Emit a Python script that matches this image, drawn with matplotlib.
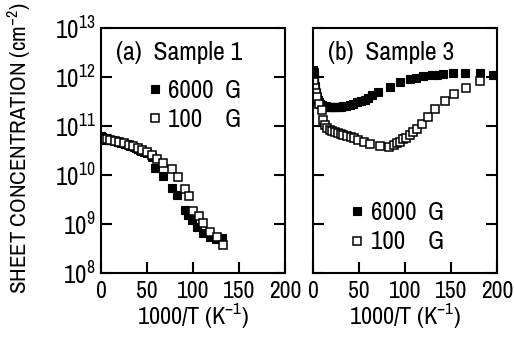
import numpy as np
import matplotlib
matplotlib.use("Agg")
import matplotlib.pyplot as plt

plt.rcParams['font.family'] = ['Archivo Narrow', 'DejaVu Sans']
plt.rcParams['mathtext.fontset'] = 'custom'
plt.rcParams['mathtext.rm'] = 'Archivo Narrow'
plt.rcParams['mathtext.it'] = 'Archivo Narrow'
plt.rcParams['mathtext.bf'] = 'Archivo Narrow'
plt.rcParams['mathtext.fallback'] = 'stixsans'

# Sample 1, 6000 G (filled)
s1_hi_x = [0.5, 1, 1.5, 2, 3, 4, 5, 6, 7, 8, 10, 12, 14, 16, 18, 20, 22, 24, 26, 28,
           30, 32, 34, 36, 38, 40, 42, 44, 47, 50, 55, 59, 67, 77, 83, 91, 95, 98.5,
           104, 111, 118.5, 125, 132]
s1_hi_logn = [10.80, 10.74, 10.78, 10.73, 10.76, 10.72, 10.75, 10.73, 10.74, 10.72,
              10.72, 10.71, 10.70, 10.69, 10.68, 10.67, 10.66, 10.65, 10.64, 10.63,
              10.62, 10.60, 10.59, 10.57, 10.56, 10.54, 10.52, 10.50, 10.47, 10.44,
              10.37, 10.14, 9.97, 9.73, 9.59, 9.29, 9.18, 9.08, 8.94, 8.81, 8.74,
              8.69, 8.71]
# Sample 1, 100 G (open)
s1_lo_x = [2, 6, 10, 15, 20, 25, 30, 35, 40, 45, 50, 55, 60.5, 67, 77, 84, 91, 96,
           100, 106, 111, 118, 126, 133]
s1_lo_logn = [10.74, 10.73, 10.71, 10.69, 10.67, 10.65, 10.62, 10.59, 10.56, 10.52,
              10.47, 10.41, 10.32, 10.24, 10.12, 9.95, 9.71, 9.57, 9.27, 9.16, 9.03,
              8.84, 8.73, 8.57]

# Sample 3, 6000 G (filled)
s3_hi_x = [0.5, 0.8, 1, 1.3, 1.6, 2, 2.5, 3, 3.5, 4, 5, 6, 7, 8, 10, 12, 14, 16, 18,
           20, 22, 24, 26, 28, 30, 33, 36, 40, 44, 48, 52, 56, 60, 64, 71, 84, 94.6,
           105, 112, 120, 129, 135, 141.6, 152, 165, 181.5, 196]
s3_hi_logn = [12.14, 12.10, 12.05, 11.98, 11.90, 11.82, 11.74, 11.68, 11.62, 11.58,
              11.54, 11.50, 11.47, 11.45, 11.43, 11.41, 11.40, 11.39, 11.39, 11.38,
              11.38, 11.38, 11.39, 11.39, 11.39, 11.40, 11.41, 11.43, 11.45, 11.48,
              11.51, 11.54, 11.57, 11.63, 11.70, 11.80, 11.90, 11.95, 11.98, 12.02,
              12.04, 12.05, 12.06, 12.08, 12.08, 12.09, 12.04]
# Sample 3, 100 G (open)
s3_lo_x = [1, 2, 3, 4, 6, 9.4, 11, 13, 15, 18, 21, 24, 27, 30, 33, 37, 41, 45, 49,
           55, 62, 73, 83, 88, 91, 95, 98, 101, 105, 109, 113, 118, 125, 133, 143,
           153, 166, 181.5]
s3_lo_logn = [11.90, 11.78, 11.68, 11.60, 11.45, 11.33, 11.12, 11.02, 10.95, 10.92,
              10.89, 10.87, 10.85, 10.84, 10.82, 10.80, 10.77, 10.75, 10.71, 10.68,
              10.63, 10.59, 10.58, 10.61, 10.65, 10.68, 10.73, 10.76, 10.82, 10.87,
              10.93, 11.05, 11.19, 11.34, 11.51, 11.66, 11.78, 11.92]

panels = [
    ("(a)  Sample 1", s1_hi_x, s1_hi_logn, s1_lo_x, s1_lo_logn),
    ("(b)  Sample 3", s3_hi_x, s3_hi_logn, s3_lo_x, s3_lo_logn),
]
xticks = [0, 50, 100, 150, 200]
yticks = [1e8, 1e9, 1e10, 1e11, 1e12, 1e13]
ytick_labels = [r'10$^{8}$', r'10$^{9}$', r'10$^{10}$', r'10$^{11}$', r'10$^{12}$', r'10$^{13}$']

fig = plt.figure(figsize=(5.14, 3.43), dpi=100)
W, H = 514, 343
axes_pos = [(101, 28, 285, 273), (313, 28, 497, 273)]

for i, (title, hx, hy, lx, ly) in enumerate(panels):
    x0, y0, x1, y1 = axes_pos[i]
    ax = fig.add_axes([x0 / W, 1 - y1 / H, (x1 - x0) / W, (y1 - y0) / H])
    ax.set_yscale('log')
    ax.set_xlim(0, 200)
    ax.set_ylim(1e8, 1e13)
    h1, = ax.plot(hx, 10 ** np.array(hy), 's', color='black', ms=5.5, mew=0.8,
                  linestyle='none')
    h2, = ax.plot(lx, 10 ** np.array(ly), 's', mfc='white', mec='black', ms=5.5,
                  mew=1.1, linestyle='none')
    for s in ax.spines.values():
        s.set_linewidth(1.5)
    ax.set_xticks(xticks)
    ax.set_xticklabels([str(t) for t in xticks], fontsize=17)
    ax.set_yticks(yticks)
    ax.yaxis.set_minor_locator(matplotlib.ticker.NullLocator())
    ax.tick_params(axis='both', direction='in', length=8, width=1.5)
    ax.tick_params(axis='x', pad=6)
    ax.tick_params(axis='y', right=True, left=True, pad=4)
    ax.tick_params(axis='x', top=False)
    if i == 0:
        ax.set_yticklabels(ytick_labels, fontsize=18)
        ax.set_ylabel(r'SHEET CONCENTRATION (cm$^{-2}$)', fontsize=16.5)
        ax.yaxis.set_label_coords(-0.37, 0.51)
        leg_loc = (0.25, 0.58)
    else:
        ax.set_yticklabels([])
        leg_loc = (0.2, 0.08)
    ax.set_xlabel(r'1000/T (K$^{-1}$)', fontsize=17.5, labelpad=-1)
    ax.text(0.08, 0.9, title, transform=ax.transAxes, fontsize=18.5, va='center')
    ax.legend([h1, h2], ['6000  G', '100    G'], loc='lower left', bbox_to_anchor=leg_loc,
              frameon=False, fontsize=18, handlelength=0.6, handletextpad=0.25,
              labelspacing=0.25, borderpad=0, borderaxespad=0)

fig.savefig('out.png', dpi=100)
